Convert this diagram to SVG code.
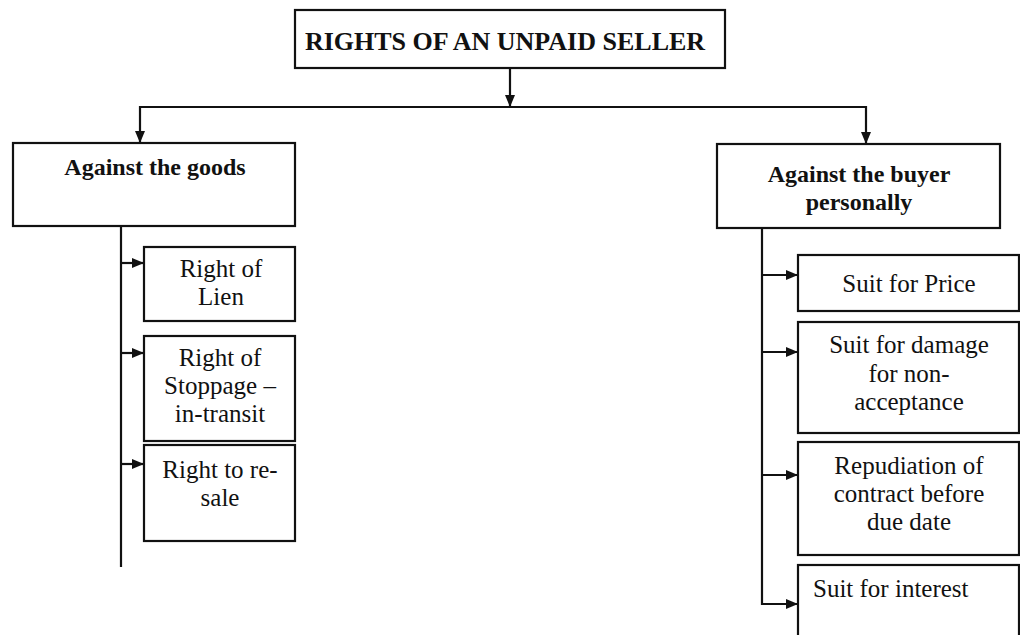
<svg xmlns="http://www.w3.org/2000/svg" width="1020" height="635" viewBox="0 0 1020 635">
<style>
.box{fill:#fff;stroke:#111;stroke-width:2.2}
.ln{fill:none;stroke:#111;stroke-width:2.2}
.t{font-family:"Liberation Serif","Times New Roman",serif;fill:#111;text-anchor:middle}
.b{font-weight:bold}
.title{font-size:26px}
.head{font-size:24px}
.c{font-size:25px}
</style>
<defs>
<marker id="ah" viewBox="0 0 12 10" refX="12" refY="5" markerWidth="12" markerHeight="10" markerUnits="userSpaceOnUse" orient="auto">
<path d="M0,0 L12,5 L0,10 z" fill="#111"/>
</marker>
</defs>
<rect width="1020" height="635" fill="#fff"/>
<g id="connectors">
<line class="ln" x1="510" y1="68" x2="510" y2="107" marker-end="url(#ah)"/>
<line class="ln" x1="139" y1="107" x2="867" y2="107"/>
<line class="ln" x1="140" y1="106" x2="140" y2="143" marker-end="url(#ah)"/>
<line class="ln" x1="866" y1="106" x2="866" y2="144" marker-end="url(#ah)"/>
<line class="ln" x1="121" y1="218" x2="121" y2="567"/>
<line class="ln" x1="121" y1="263" x2="144" y2="263" marker-end="url(#ah)"/>
<line class="ln" x1="121" y1="353" x2="144" y2="353" marker-end="url(#ah)"/>
<line class="ln" x1="121" y1="464" x2="144" y2="464" marker-end="url(#ah)"/>
<line class="ln" x1="762" y1="218" x2="762" y2="605"/>
<line class="ln" x1="762" y1="275" x2="798" y2="275" marker-end="url(#ah)"/>
<line class="ln" x1="762" y1="352" x2="798" y2="352" marker-end="url(#ah)"/>
<line class="ln" x1="762" y1="475" x2="798" y2="475" marker-end="url(#ah)"/>
<line class="ln" x1="761" y1="604" x2="798" y2="604" marker-end="url(#ah)"/>
</g>
<g id="root">
<rect class="box" x="295" y="10" width="430" height="58"/>
<text class="t b title" x="505" y="50">RIGHTS OF AN UNPAID SELLER</text>
</g>
<g id="goods">
<rect class="box" x="13" y="143" width="282" height="83"/>
<text class="t b head" x="155" y="175">Against the goods</text>
</g>
<g id="buyer">
<rect class="box" x="717" y="144" width="283" height="84"/>
<text class="t b head" x="859" y="182">Against the buyer</text>
<text class="t b head" x="859" y="210">personally</text>
</g>
<g id="lien">
<rect class="box" x="144" y="247" width="151" height="74"/>
<text class="t c" x="221" y="277">Right of</text>
<text class="t c" x="221" y="305">Lien</text>
</g>
<g id="stoppage">
<rect class="box" x="144" y="336" width="151" height="105"/>
<text class="t c" x="220" y="366">Right of</text>
<text class="t c" x="220" y="394">Stoppage –</text>
<text class="t c" x="220" y="422">in-transit</text>
</g>
<g id="resale">
<rect class="box" x="144" y="445" width="151" height="96"/>
<text class="t c" x="220" y="478">Right to re-</text>
<text class="t c" x="220" y="506">sale</text>
</g>
<g id="price">
<rect class="box" x="798" y="255" width="221" height="56"/>
<text class="t c" x="909" y="292">Suit for Price</text>
</g>
<g id="damage">
<rect class="box" x="798" y="322" width="221" height="111"/>
<text class="t c" x="909" y="353">Suit for damage</text>
<text class="t c" x="909" y="382">for non-</text>
<text class="t c" x="909" y="410">acceptance</text>
</g>
<g id="repudiation">
<rect class="box" x="798" y="442" width="221" height="113"/>
<text class="t c" x="909" y="474">Repudiation of</text>
<text class="t c" x="909" y="502">contract before</text>
<text class="t c" x="909" y="530">due date</text>
</g>
<g id="interest">
<rect class="box" x="798" y="565" width="221" height="80"/>
<text class="t c" x="813" y="597" style="text-anchor:start">Suit for interest</text>
</g>
</svg>
